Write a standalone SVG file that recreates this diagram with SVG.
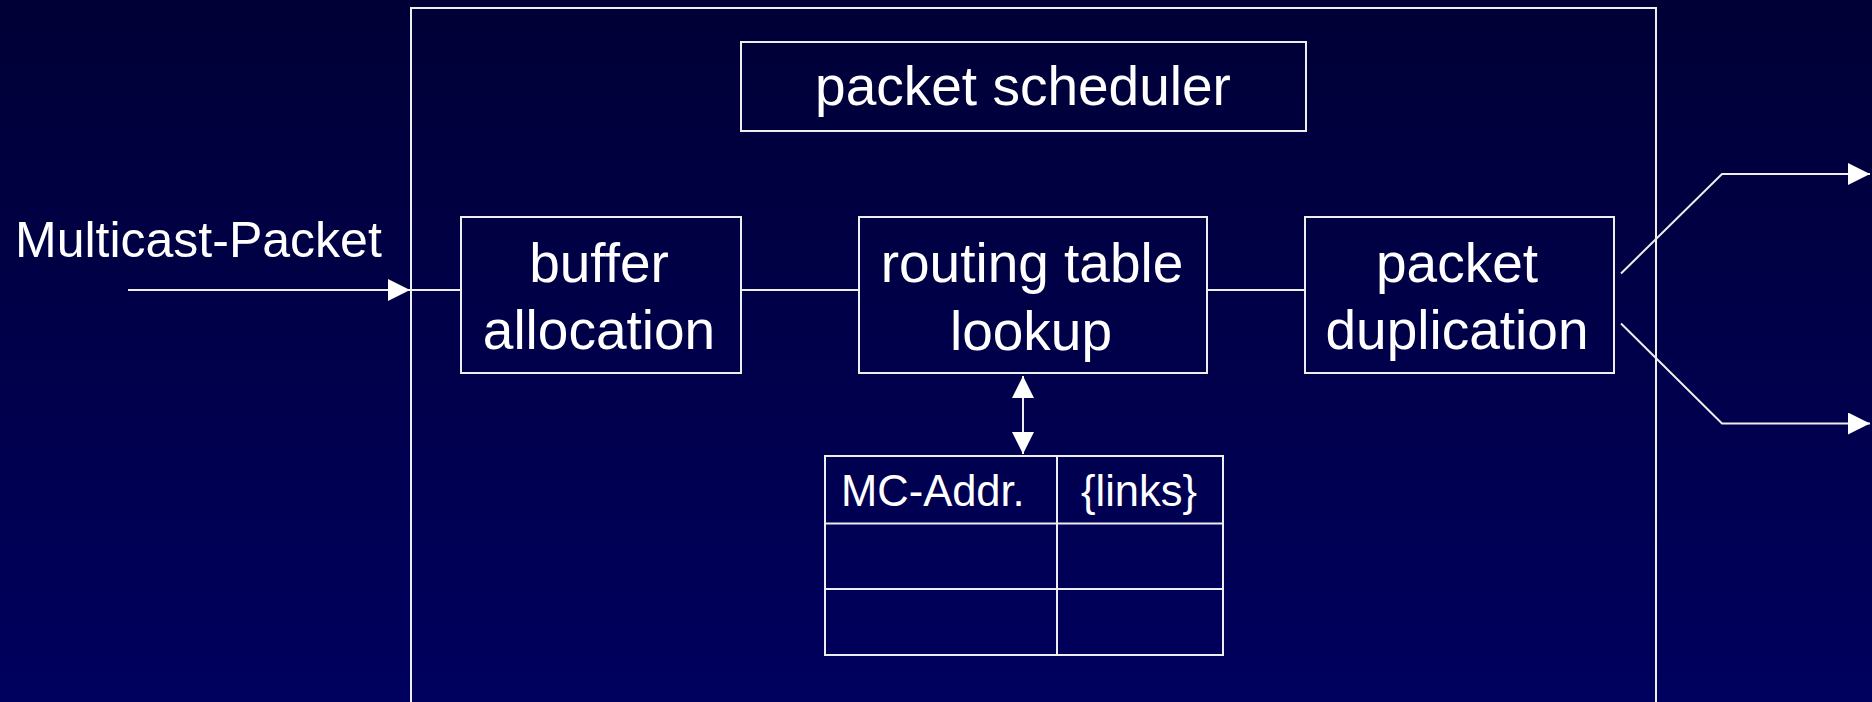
<svg xmlns="http://www.w3.org/2000/svg" width="1872" height="702" viewBox="0 0 1872 702">
<defs>
<linearGradient id="bg" x1="0" y1="0" x2="0" y2="1">
<stop offset="0" stop-color="#000036"/>
<stop offset="1" stop-color="#00005e"/>
</linearGradient>
<marker id="ah" markerUnits="userSpaceOnUse" markerWidth="23" markerHeight="22" refX="22" refY="11" orient="auto-start-reverse" viewBox="0 0 23 22">
<path d="M0,0 L22,11 L0,22 Z" fill="#ffffff"/>
</marker>
<style>
.box{fill:none;stroke:#eeeeee;stroke-width:2}
.ln{fill:none;stroke:#eeeeee;stroke-width:2}
.t{font-family:"Liberation Sans",Arial,sans-serif;fill:#ffffff;font-size:55px;text-anchor:middle}
.tt{font-family:"Liberation Sans",Arial,sans-serif;fill:#ffffff;font-size:43.5px}
</style>
</defs>
<rect x="0" y="0" width="1872" height="702" fill="url(#bg)"/>
<g id="router">
<path class="box" d="M411,702 V8 H1656 V702"/>
</g>
<g id="scheduler">
<rect class="box" x="741" y="42" width="565" height="89"/>
<text class="t" x="1023" y="105">packet scheduler</text>
</g>
<g id="buffer">
<rect class="box" x="461" y="217" width="280" height="156"/>
<text class="t" x="599" y="282">buffer</text>
<text class="t" x="599" y="349">allocation</text>
</g>
<g id="routing">
<rect class="box" x="859" y="217" width="348" height="156"/>
<text class="t" x="1032" y="282">routing table</text>
<text class="t" x="1031" y="350">lookup</text>
</g>
<g id="duplication">
<rect class="box" x="1305" y="217" width="309" height="156"/>
<text class="t" x="1457" y="282">packet</text>
<text class="t" x="1457" y="349">duplication</text>
</g>
<g id="table">
<rect class="box" x="825" y="456" width="398" height="199"/>
<line class="ln" x1="1057" y1="456" x2="1057" y2="655"/>
<line class="ln" x1="825" y1="523.5" x2="1223" y2="523.5"/>
<line class="ln" x1="825" y1="589" x2="1223" y2="589"/>
<text class="tt" x="841" y="506">MC-Addr.</text>
<text class="tt" x="1081" y="506">{links}</text>
</g>
<g id="input-label">
<text class="t" x="15" y="257" style="text-anchor:start;font-size:50px">Multicast-Packet</text>
</g>
<g id="connectors">
<line class="ln" x1="128" y1="290" x2="410" y2="290" marker-end="url(#ah)"/>
<line class="ln" x1="411" y1="290" x2="461" y2="290"/>
<line class="ln" x1="741" y1="290" x2="859" y2="290"/>
<line class="ln" x1="1207" y1="290" x2="1305" y2="290"/>
<line class="ln" x1="1023" y1="376" x2="1023" y2="454" marker-start="url(#ah)" marker-end="url(#ah)"/>
<polyline class="ln" points="1621,273.5 1722,174 1870,174" marker-end="url(#ah)"/>
<polyline class="ln" points="1621,323.5 1722,423.5 1870,423.5" marker-end="url(#ah)"/>
</g>
</svg>
